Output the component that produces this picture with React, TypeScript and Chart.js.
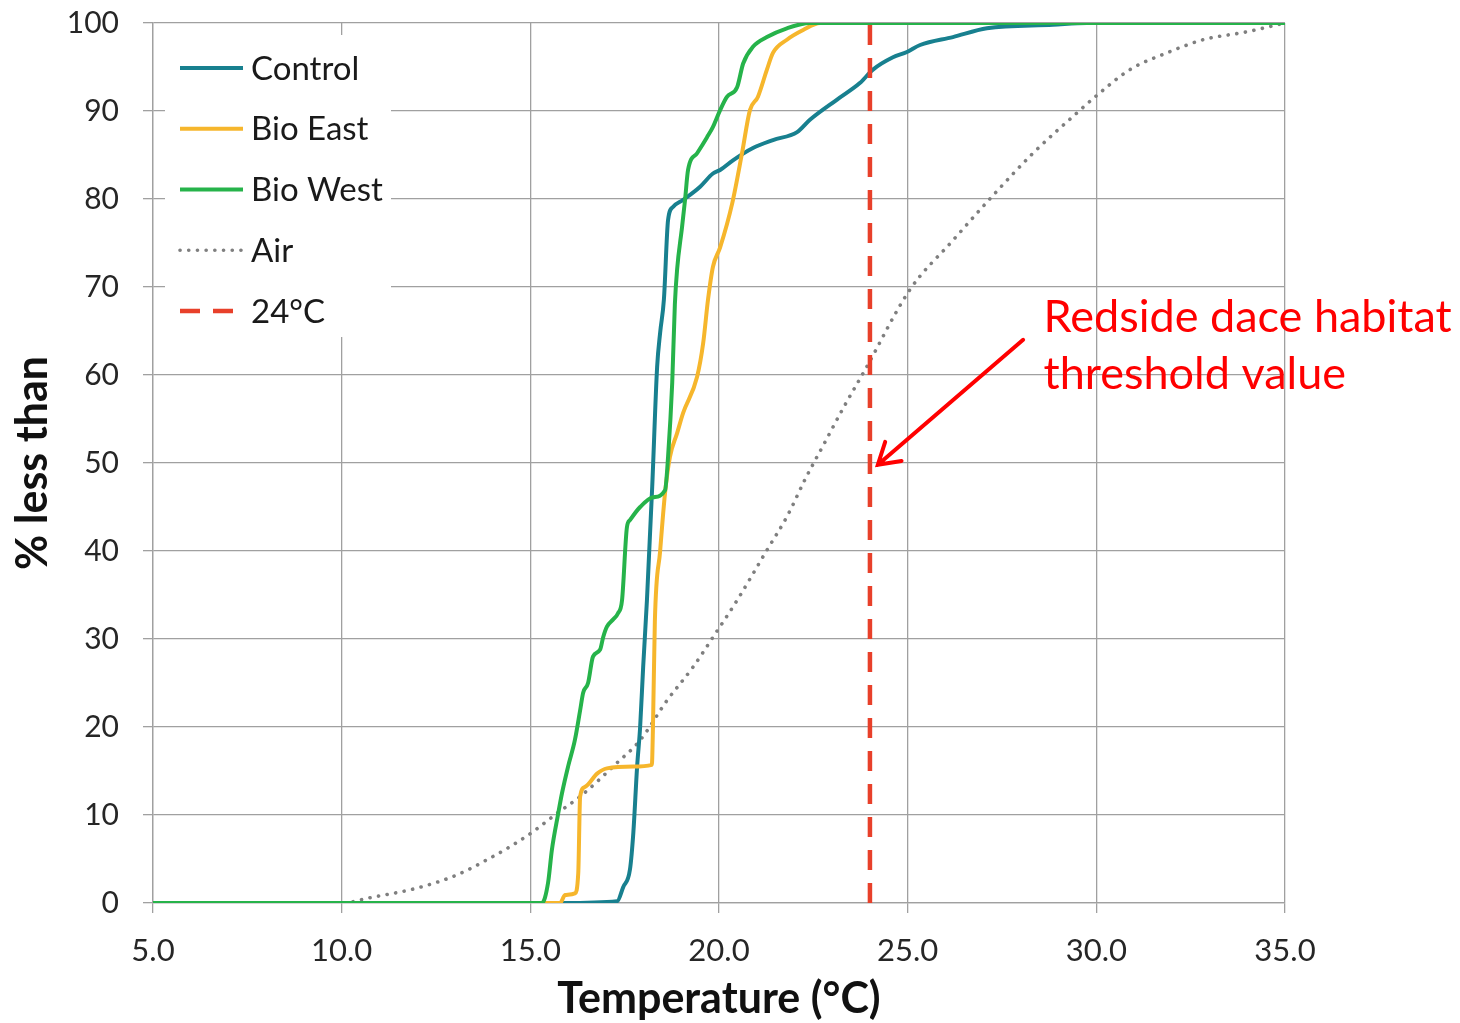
import React, { useEffect, useRef } from "react";
import { Chart, registerables } from "chart.js";

Chart.register(...registerables);

// ---- Data (temperature °C vs cumulative % less than) ----
const controlT = [5, 15.87, 17.3, 17.46, 17.64, 17.73, 17.83, 17.91, 17.99, 18.09, 18.23, 18.36, 18.44, 18.54, 18.65, 18.78, 19.05, 19.5, 19.84, 20.03, 20.37, 20.9, 21.43, 22.07, 22.41, 23.13, 23.74, 24.08, 24.61, 24.98, 25.33, 26.2, 27.1, 28.85, 29.75, 35];
const controlPct = [0, 0, 0.2, 1.8, 3.8, 8, 15.5, 20, 26.8, 34.4, 47.3, 60.9, 64.8, 68.6, 77.6, 79.1, 79.9, 81.4, 82.9, 83.3, 84.4, 85.8, 86.7, 87.6, 89, 91.3, 93.2, 94.7, 96.1, 96.7, 97.5, 98.4, 99.4, 99.8, 100, 100];

const eastT = [5, 15.79, 15.92, 16.18, 16.27, 16.32, 16.45, 16.77, 17.03, 17.73, 18.22, 18.25, 18.3, 18.44, 18.57, 18.7, 18.89, 19.05, 19.42, 19.58, 19.71, 19.84, 20.03, 20.35, 20.61, 20.82, 21.03, 21.27, 21.43, 21.8, 22.23, 22.68, 35];
const eastPct = [0, 0, 0.9, 1.1, 3.4, 12.1, 13.2, 14.7, 15.3, 15.5, 15.7, 20, 32, 40, 46.6, 50.7, 53.4, 55.7, 59.8, 63.6, 68.6, 72.3, 74.5, 79.5, 85.2, 90.1, 91.6, 94.7, 96.6, 98.1, 99.2, 100, 100];

const westT = [5, 15.31, 15.47, 15.57, 15.74, 15.84, 16.0, 16.18, 16.32, 16.4, 16.53, 16.66, 16.85, 16.93, 17.03, 17.19, 17.32, 17.43, 17.56, 17.64, 17.91, 18.25, 18.57, 18.65, 18.76, 18.83, 18.89, 19.02, 19.1, 19.18, 19.42, 19.68, 19.84, 20.03, 20.21, 20.48, 20.64, 20.9, 21.27, 21.8, 22.41, 35];
const westPct = [0, 0, 2.3, 6, 10.2, 12.5, 15.5, 18.5, 21.9, 23.9, 25, 28, 28.8, 30.2, 31.4, 32.2, 32.9, 34.4, 42.7, 43.5, 45, 46.1, 46.9, 50.7, 59.1, 68, 72, 76.8, 79.9, 83.3, 85.2, 87, 88.2, 90.1, 91.6, 92.7, 95.4, 97.3, 98.4, 99.4, 100, 100];

const airT = [5, 10.0, 10.75, 12.0, 13.06, 13.93, 14.5, 15.07, 15.71, 16.32, 17.29, 17.91, 18.62, 19.31, 19.84, 20.48, 21.27, 21.8, 22.3, 22.8, 23.3, 23.86, 25.06, 26.2, 27.24, 28.32, 29.49, 30.02, 30.89, 31.87, 32.83, 33.99, 35];
const airPct = [0, 0, 0.6, 1.7, 3.2, 5.1, 6.5, 8.1, 10.2, 12.1, 15.9, 18.5, 23, 26.8, 30.2, 34.4, 40.1, 43.9, 48.3, 52.3, 56.3, 60.5, 69.7, 75.3, 80.3, 85.2, 89.8, 91.8, 94.7, 96.6, 98.1, 99, 100];

const thresholdT = [24, 24];
const thresholdPct = [0, 100];

const seriesLabels = ["Control", "Bio East", "Bio West", "Air", "24°C"];
const xTicks = [5, 10, 15, 20, 25, 30, 35];

const noteLines = ["Redside dace habitat", "threshold value"];
const noteX = 28.6;
const noteY = [66.5, 60.1];
const arrowTail = { x: 28.06, y: 64.0 };
const arrowTip = { x: 24.21, y: 49.8 };

const FONT = 'Lato, "Open Sans", sans-serif';

const toXY = (xs: number[], ys: number[]) => xs.map((x, i) => ({ x, y: ys[i] }));

const legendPlugin = {
  id: "insetLegend",
  beforeDatasetsDraw(chart: any) {
    const { ctx, chartArea } = chart;
    ctx.save();
    ctx.fillStyle = "#ffffff";
    ctx.fillRect(chartArea.left + 12, chartArea.top + 12, 226, 302);
    ctx.restore();
  },
  afterDatasetsDraw(chart: any) {
    const { ctx, chartArea } = chart;
    chart.data.datasets.forEach((ds: any, i: number) => {
      const y = chartArea.top + 45 + i * 60.75;
      const x0 = chartArea.left + 27;
      const x1 = chartArea.left + (ds.label === "24°C" ? 80 : 90);
      ctx.save();
      ctx.strokeStyle = ds.borderColor;
      ctx.lineWidth = ds.borderWidth;
      ctx.lineCap = ds.borderCapStyle || "butt";
      ctx.setLineDash(ds.borderDash || []);
      ctx.beginPath();
      ctx.moveTo(x0, y);
      ctx.lineTo(x1, y);
      ctx.stroke();
      ctx.setLineDash([]);
      ctx.fillStyle = "#1a1a1a";
      ctx.font = `33px ${FONT}`;
      ctx.textBaseline = "middle";
      ctx.textAlign = "left";
      ctx.fillText(ds.label, chartArea.left + 98, y + 1);
      ctx.restore();
    });
  },
};

const notePlugin = {
  id: "note",
  afterDraw(chart: any) {
    const { ctx, scales } = chart;
    const xs = scales.x, ys = scales.y;
    ctx.save();
    ctx.fillStyle = "#ff0000";
    ctx.font = `45px ${FONT}`;
    ctx.textAlign = "left";
    ctx.textBaseline = "middle";
    noteLines.forEach((t, i) => ctx.fillText(t, xs.getPixelForValue(noteX), ys.getPixelForValue(noteY[i])));
    const tx = xs.getPixelForValue(arrowTip.x), ty = ys.getPixelForValue(arrowTip.y);
    const sx = xs.getPixelForValue(arrowTail.x), sy = ys.getPixelForValue(arrowTail.y);
    ctx.strokeStyle = "#ff0000";
    ctx.lineWidth = 4;
    ctx.lineCap = "round";
    ctx.beginPath();
    ctx.moveTo(sx, sy);
    ctx.lineTo(tx, ty);
    const ang = Math.atan2(sy - ty, sx - tx);
    const L = 24, a = 0.55;
    ctx.moveTo(tx + L * Math.cos(ang + a), ty + L * Math.sin(ang + a));
    ctx.lineTo(tx, ty);
    ctx.lineTo(tx + L * Math.cos(ang - a), ty + L * Math.sin(ang - a));
    ctx.stroke();
    ctx.restore();
  },
};

export default function App() {
  const ref = useRef<HTMLCanvasElement | null>(null);
  useEffect(() => {
    if (!ref.current) return;
    const grid = "#a0a0a0";
    const chart = new Chart(ref.current, {
      type: "line",
      data: {
        datasets: [
          { label: seriesLabels[0], order: 3, data: toXY(controlT, controlPct), borderColor: "#18808f", borderWidth: 4, pointRadius: 0, cubicInterpolationMode: "monotone" },
          { label: seriesLabels[1], order: 2, data: toXY(eastT, eastPct), borderColor: "#f6b62c", borderWidth: 4, pointRadius: 0, cubicInterpolationMode: "monotone" },
          { label: seriesLabels[2], order: 1, data: toXY(westT, westPct), borderColor: "#26b34a", borderWidth: 4, pointRadius: 0, cubicInterpolationMode: "monotone" },
          { label: seriesLabels[3], order: 4, data: toXY(airT, airPct), borderColor: "#7f7f7f", borderWidth: 3.6, borderDash: [0.1, 8.6], borderCapStyle: "round", pointRadius: 0, cubicInterpolationMode: "monotone" },
          { label: seriesLabels[4], order: 0, data: toXY(thresholdT, thresholdPct), borderColor: "#e8402a", borderWidth: 4.5, borderDash: [20, 13], pointRadius: 0 },
        ] as any,
      },
      options: {
        responsive: false,
        animation: false,
        layout: { padding: { left: 0, right: 175, top: 23, bottom: 0 } },
        plugins: { legend: { display: false }, tooltip: { enabled: false } },
        scales: {
          x: {
            type: "linear",
            min: 5,
            max: 35,
            afterFit: (s: any) => { s.height = 120; },
            afterBuildTicks: (s: any) => { s.ticks = xTicks.map((v) => ({ value: v })); },
            ticks: { callback: (v: any) => Number(v).toFixed(1), font: { family: FONT, size: 31 }, color: "#262626", padding: 19, maxRotation: 0 },
            grid: { color: grid, lineWidth: 1.3, tickLength: 10 },
            border: { color: grid, width: 1.3 },
            title: { display: true, text: "Temperature (°C)", font: { family: FONT, size: 43, weight: "bold", lineHeight: 1.1 }, color: "#111", padding: { top: 0, bottom: 0 } },
          },
          y: {
            min: 0,
            max: 100,
            afterFit: (s: any) => { s.width = 153; s.paddingTop = 0; s.paddingBottom = 0; },
            ticks: { stepSize: 10, font: { family: FONT, size: 30 }, color: "#262626", padding: 24 },
            grid: { color: grid, lineWidth: 1.3, tickLength: 10 },
            border: { color: grid, width: 1.3 },
            title: { display: true, text: "% less than", font: { family: FONT, size: 43, weight: "bold", lineHeight: 1.1 }, color: "#111", padding: { top: 9, bottom: 0 } },
          },
        },
      } as any,
      plugins: [legendPlugin, notePlugin],
    });
    return () => chart.destroy();
  }, []);
  return (
    <div style={{ position: "fixed", left: 0, top: 0, width: 1460, height: 1023, background: "#fff" }}>
      <canvas ref={ref} width={1460} height={1023} style={{ width: 1460, height: 1023, display: "block" }} />
    </div>
  );
}
